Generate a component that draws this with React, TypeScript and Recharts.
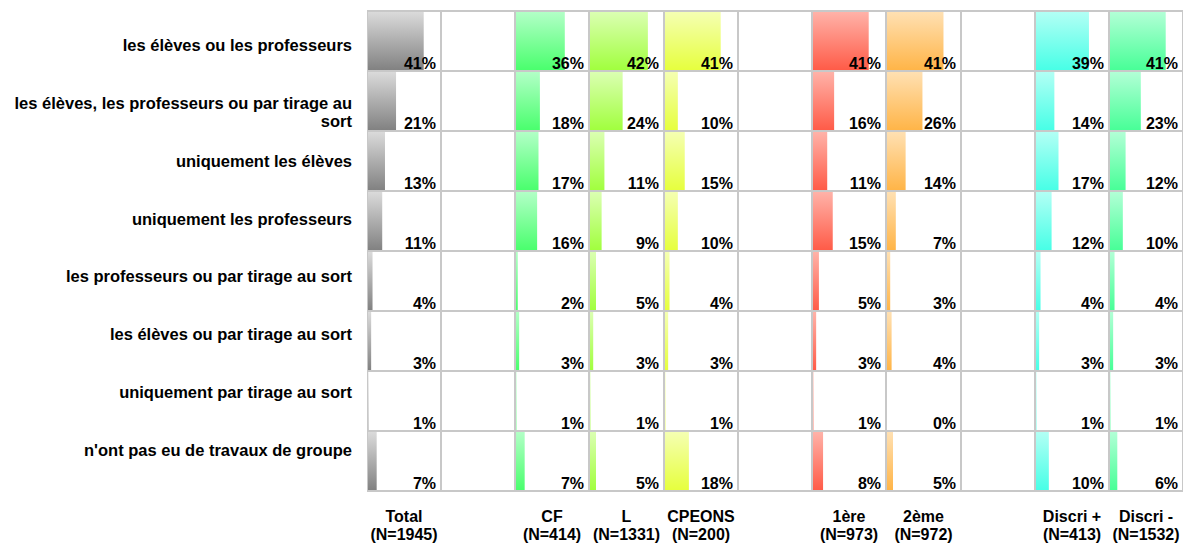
import React from 'react';
import { BarChart, Bar, XAxis, YAxis, LabelList, Text } from 'recharts';

const FONT = '"Liberation Sans", Arial, Helvetica, sans-serif';

// ---- Data ----
const rowLabels = [
  'les élèves ou les professeurs',
  'les élèves, les professeurs ou par tirage au sort',
  'uniquement les élèves',
  'uniquement les professeurs',
  'les professeurs ou par tirage au sort',
  'les élèves ou par tirage au sort',
  'uniquement par tirage au sort',
  "n'ont pas eu de travaux de groupe",
];

const totalValues = [41, 21, 13, 11, 4, 3, 1, 7];
const cfValues = [36, 18, 17, 16, 2, 3, 1, 7];
const lValues = [42, 24, 11, 9, 5, 3, 1, 5];
const cpeonsValues = [41, 10, 15, 10, 4, 3, 1, 18];
const premiereValues = [41, 16, 11, 15, 5, 3, 1, 8];
const deuxiemeValues = [41, 26, 14, 7, 3, 4, 0, 5];
const discriPlusValues = [39, 14, 17, 12, 4, 3, 1, 10];
const discriMoinsValues = [41, 23, 12, 10, 4, 3, 1, 6];

const columnNames = ['Total', '', 'CF', 'L', 'CPEONS', '', '1ère', '2ème', '', 'Discri +', 'Discri -'];
const columnCounts = ['(N=1945)', '', '(N=414)', '(N=1331)', '(N=200)', '', '(N=973)', '(N=972)', '', '(N=413)', '(N=1532)'];
const columnValues: (number[] | null)[] = [
  totalValues, null, cfValues, lValues, cpeonsValues, null,
  premiereValues, deuxiemeValues, null, discriPlusValues, discriMoinsValues,
];
const columnColors: ([string, string] | null)[] = [
  ['#dcdcdc', '#808080'], null,
  ['#b4ffc8', '#48ff6c'],
  ['#dcffb4', '#a0ff3c'],
  ['#f5ffb4', '#e6ff3c'], null,
  ['#ffb4aa', '#ff5a46'],
  ['#ffe1b4', '#ffb446'], null,
  ['#b4fff5', '#46ffe6'],
  ['#b4ffd7', '#46ff96'],
];

// ---- Layout ----
const LEFT = 366.7;
const TOP = 11;
const COL_W = 74.25;
const ROW_H = 60;
const PLOT_H = ROW_H * rowLabels.length;
const X_MAX = 53.5; // percent that fills one cell
const GRID = '#c8c8c8';
const LABEL_TOP = 22;
const LABEL_H = 463;
const LABEL_W = 367;

const colEdge = (i: number) => Math.round(LEFT + i * COL_W);

const RowTick = (props: any) => {
  const { x, y, payload } = props;
  return (
    <Text
      x={x}
      y={y}
      width={345}
      textAnchor="end"
      verticalAnchor="middle"
      lineHeight={18}
      style={{ fontSize: 16.5, fontWeight: 'bold', fontFamily: FONT }}
      fill="#000"
    >
      {payload.value}
    </Text>
  );
};

const makeValueLabel = (cellW: number) => (props: any) => {
  const vb = props.viewBox || {};
  const x = vb.x ?? props.x;
  const y = vb.y ?? props.y;
  const h = vb.height ?? props.height;
  return (
    <text
      x={x + cellW - 5}
      y={y + h - 2}
      textAnchor="end"
      fill="#000"
      style={{ fontSize: 16, fontWeight: 'bold', fontFamily: FONT }}
    >
      {`${props.value}%`}
    </text>
  );
};

function buildRows(values: number[] | null) {
  return rowLabels.map((r, i) => ({ row: r, v: values ? values[i] : 0, cell: X_MAX }));
}

function ValueChart({ index }: { index: number }) {
  const values = columnValues[index];
  const colors = columnColors[index];
  if (!values || !colors) return null;
  const left = colEdge(index);
  const cellW = colEdge(index + 1) - left;
  const gid = `grad-${index}`;
  return (
    <div style={{ position: 'absolute', left, top: TOP }}>
      <BarChart
        layout="vertical"
        width={cellW}
        height={PLOT_H}
        data={buildRows(values)}
        margin={{ top: 0, right: 0, bottom: 0, left: 0 }}
        barCategoryGap={0}
      >
        <defs>
          <linearGradient id={gid} x1="0" y1="0" x2="0" y2="1">
            <stop offset="0" stopColor={colors[0]} />
            <stop offset="1" stopColor={colors[1]} />
          </linearGradient>
        </defs>
        <XAxis type="number" domain={[0, X_MAX]} hide allowDataOverflow />
        <YAxis type="category" dataKey="row" hide />
        <Bar dataKey="v" isAnimationActive={false} fill={`url(#${gid})`} />
      </BarChart>
    </div>
  );
}

function GridChart({ index }: { index: number }) {
  const values = columnValues[index];
  const left = colEdge(index);
  const cellW = colEdge(index + 1) - left;
  return (
    <div style={{ position: 'absolute', left, top: TOP }}>
      <BarChart
        layout="vertical"
        width={cellW}
        height={PLOT_H}
        data={buildRows(values)}
        margin={{ top: 0, right: 0, bottom: 0, left: 0 }}
        barCategoryGap={0}
      >
        <XAxis type="number" domain={[0, X_MAX]} hide allowDataOverflow />
        <YAxis type="category" dataKey="row" hide />
        <Bar dataKey="cell" isAnimationActive={false} fill="none" stroke={GRID} strokeWidth={2}>
          {values && <LabelList dataKey="v" content={makeValueLabel(cellW)} />}
        </Bar>
      </BarChart>
    </div>
  );
}

function RowLabelChart() {
  return (
    <div style={{ position: 'absolute', left: 0, top: LABEL_TOP }}>
      <BarChart
        layout="vertical"
        width={LABEL_W + 2}
        height={LABEL_H}
        data={buildRows(null)}
        margin={{ top: 0, right: 0, bottom: 0, left: 0 }}
        barCategoryGap={0}
      >
        <XAxis type="number" domain={[0, X_MAX]} hide />
        <YAxis
          type="category"
          dataKey="row"
          width={LABEL_W}
          axisLine={false}
          tickLine={false}
          tickMargin={9}
          interval={0}
          tick={<RowTick />}
        />
        <Bar dataKey="v" isAnimationActive={false} fill="none" />
      </BarChart>
    </div>
  );
}

export default function App() {
  return (
    <div style={{ position: 'absolute', left: 0, top: 0, width: 1185, height: 549, background: '#fff' }}>
      <style>{`.recharts-surface{overflow:visible}`}</style>
      <RowLabelChart />
      {columnNames.map((_, i) => (
        <ValueChart key={`v-${i}`} index={i} />
      ))}
      {columnNames.map((_, i) => (
        <GridChart key={`g-${i}`} index={i} />
      ))}
      {columnNames.map((name, i) =>
        name ? (
          <div
            key={`lbl-${i}`}
            style={{
              position: 'absolute',
              left: colEdge(i) - 10,
              width: colEdge(i + 1) - colEdge(i) + 20,
              top: 508,
              textAlign: 'center',
              fontFamily: FONT,
              fontWeight: 'bold',
              fontSize: 16,
              lineHeight: '18px',
              whiteSpace: 'nowrap',
              color: '#000',
            }}
          >
            <div>{name}</div>
            <div>{columnCounts[i]}</div>
          </div>
        ) : null
      )}
    </div>
  );
}
